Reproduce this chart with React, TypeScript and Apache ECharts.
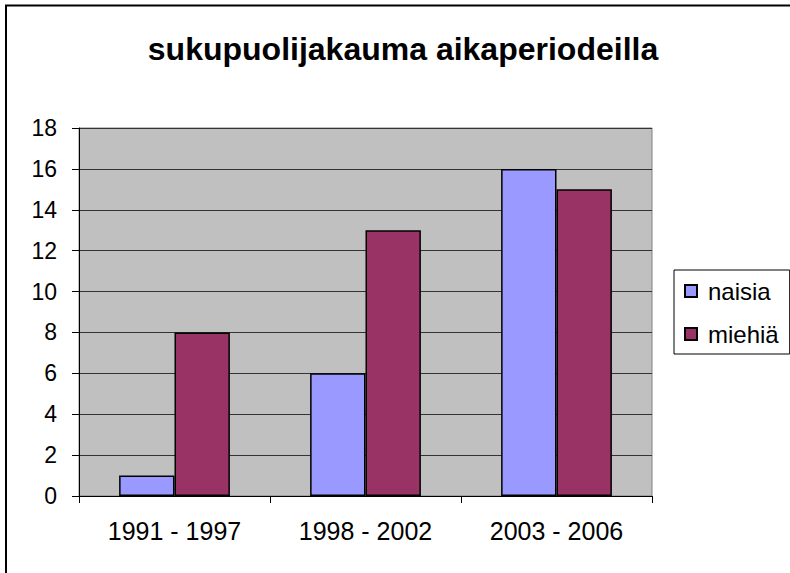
import React, { useEffect, useRef } from "react";
import * as echarts from "echarts";

const titleText = "sukupuolijakauma aikaperiodeilla";
const categories = ["1991 - 1997", "1998 - 2002", "2003 - 2006"];
const naisia = [1, 6, 16];
const miehia = [8, 13, 15];
const seriesNames = ["naisia", "miehiä"];

export default function App() {
  const ref = useRef<HTMLDivElement>(null);
  useEffect(() => {
    if (!ref.current) return;
    const chart = echarts.init(ref.current, undefined, { renderer: "svg" });
    const font = "Arial, 'Liberation Sans', sans-serif";
    chart.setOption({
      animation: false,
      backgroundColor: "#ffffff",
      title: {
        text: titleText,
        left: 398,
        textAlign: "center",
        top: 28,
        textStyle: { fontFamily: font, fontSize: 32, fontWeight: "bold", color: "#000" },
      },
      graphic: [
        {
          type: "rect",
          shape: { x: 6, y: 5.5, width: 820, height: 620 },
          style: { fill: "none", stroke: "#000", lineWidth: 2 },
          silent: true,
        },
      ],
      legend: {
        orient: "vertical",
        left: 674,
        top: 270,
        padding: [9, 11, 8, 10],
        itemGap: 19,
        itemWidth: 12,
        itemHeight: 12,
        borderColor: "#000",
        borderWidth: 1,
        backgroundColor: "#fff",
        icon: "rect",
        textStyle: { fontFamily: font, fontSize: 24, lineHeight: 24, color: "#000", padding: [0, 0, 0, 6] },
        data: seriesNames,
      },
      grid: { left: 79, top: 128, right: 138, bottom: 77, show: true, backgroundColor: "#C0C0C0", borderColor: "#808080", borderWidth: 1 },
      xAxis: {
        type: "category",
        data: categories,
        boundaryGap: true,
        axisLine: { lineStyle: { color: "#000", width: 1 } },
        axisTick: { show: true, length: 7, lineStyle: { color: "#000" } },
        axisLabel: { fontFamily: font, fontSize: 25, color: "#000", margin: 22 },
      },
      yAxis: {
        type: "value",
        min: 0,
        max: 18,
        interval: 2,
        axisLine: { show: true, lineStyle: { color: "#000", width: 1 } },
        axisTick: { show: true, length: 7, lineStyle: { color: "#000" } },
        axisLabel: { fontFamily: font, fontSize: 23, color: "#000", margin: 22 },
        splitLine: { show: true, lineStyle: { color: "#333", width: 1 } },
      },
      series: [
        {
          name: seriesNames[0],
          type: "bar",
          data: naisia,
          barGap: "0%",
          barCategoryGap: "42%",
          itemStyle: { color: "#9999FF", borderColor: "#000", borderWidth: 1.5 },
        },
        {
          name: seriesNames[1],
          type: "bar",
          data: miehia,
          barGap: "0%",
          barCategoryGap: "42%",
          itemStyle: { color: "#993366", borderColor: "#000", borderWidth: 1.5 },
        },
      ],
    });
    return () => chart.dispose();
  }, []);
  return (
    <div
      ref={ref}
      style={{ position: "fixed", left: 0, top: 0, width: 790, height: 573 }}
    />
  );
}
